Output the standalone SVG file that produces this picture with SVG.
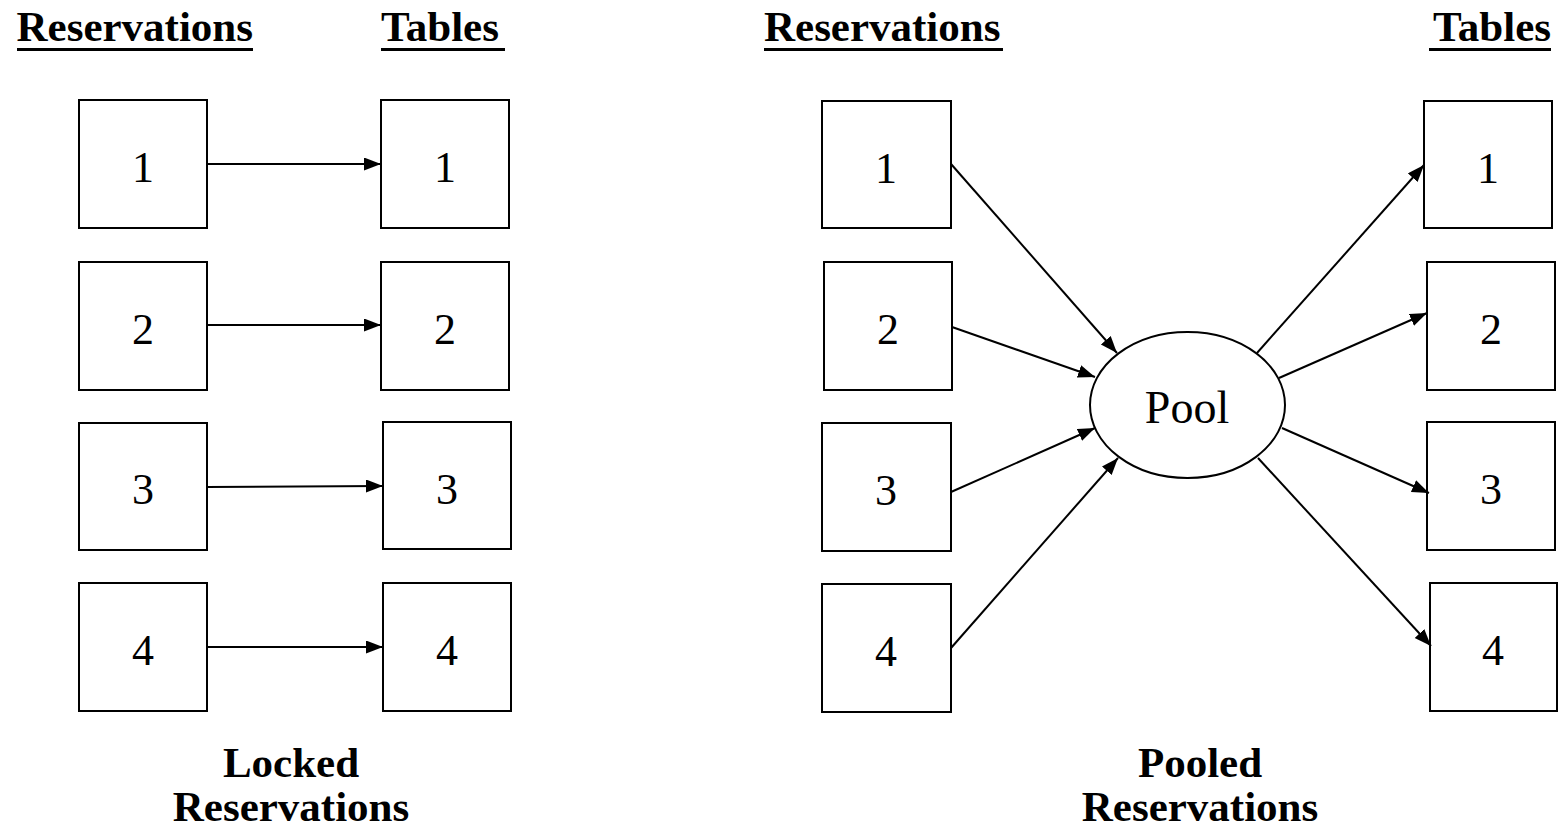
<svg xmlns="http://www.w3.org/2000/svg" width="1558" height="835" viewBox="0 0 1558 835">
  <style>
    .box { fill: #fff; stroke: #000; stroke-width: 2; }
    .pool { fill: #fff; stroke: #000; stroke-width: 2; }
    .num { font-family: "Liberation Serif", "Times New Roman", serif; font-size: 44px; text-anchor: middle; fill: #000; }
    .pooltext { font-family: "Liberation Serif", "Times New Roman", serif; font-size: 46px; text-anchor: middle; fill: #000; }
    .head { font-family: "Liberation Serif", "Times New Roman", serif; font-size: 43px; font-weight: bold; fill: #000; }
    .cap { font-family: "Liberation Serif", "Times New Roman", serif; font-size: 43px; font-weight: bold; text-anchor: middle; fill: #000; }
    .uline { stroke: #000; stroke-width: 3; }
    .conn line { stroke: #000; stroke-width: 2; marker-end: url(#arrow); }
  </style>
  <defs>
    <marker id="arrow" markerUnits="userSpaceOnUse" markerWidth="18" markerHeight="14" refX="17" refY="6.5" orient="auto">
      <path d="M0,0 L17,6.5 L0,13 z" fill="#000"/>
    </marker>
  </defs>
  <rect width="1558" height="835" fill="#fff"/>

  <!-- column headings -->
  <g id="headings">
    <text class="head" x="253" y="41" text-anchor="end">Reservations</text>
    <line class="uline" x1="17" y1="49.5" x2="253" y2="49.5"/>
    <text class="head" x="381" y="41">Tables</text>
    <line class="uline" x1="381" y1="49.5" x2="505" y2="49.5"/>
    <text class="head" x="764" y="41">Reservations</text>
    <line class="uline" x1="764" y1="49.5" x2="1003" y2="49.5"/>
    <text class="head" x="1551" y="41" text-anchor="end">Tables</text>
    <line class="uline" x1="1429" y1="49.5" x2="1551" y2="49.5"/>
  </g>

  <!-- locked: reservations -->
  <g id="lr1"><rect class="box" x="79" y="100" width="128" height="128"/><text class="num" x="143" y="182">1</text></g>
  <g id="lr2"><rect class="box" x="79" y="262" width="128" height="128"/><text class="num" x="143" y="344">2</text></g>
  <g id="lr3"><rect class="box" x="79" y="423" width="128" height="127"/><text class="num" x="143" y="504">3</text></g>
  <g id="lr4"><rect class="box" x="79" y="583" width="128" height="128"/><text class="num" x="143" y="665">4</text></g>

  <!-- locked: tables -->
  <g id="lt1"><rect class="box" x="381" y="100" width="128" height="128"/><text class="num" x="445" y="182">1</text></g>
  <g id="lt2"><rect class="box" x="381" y="262" width="128" height="128"/><text class="num" x="445" y="344">2</text></g>
  <g id="lt3"><rect class="box" x="383" y="422" width="128" height="127"/><text class="num" x="447" y="504">3</text></g>
  <g id="lt4"><rect class="box" x="383" y="583" width="128" height="128"/><text class="num" x="447" y="665">4</text></g>

  <!-- pooled: reservations -->
  <g id="pr1"><rect class="box" x="822" y="101" width="129" height="127"/><text class="num" x="886" y="183">1</text></g>
  <g id="pr2"><rect class="box" x="824" y="262" width="128" height="128"/><text class="num" x="888" y="344">2</text></g>
  <g id="pr3"><rect class="box" x="822" y="423" width="129" height="128"/><text class="num" x="886" y="505">3</text></g>
  <g id="pr4"><rect class="box" x="822" y="584" width="129" height="128"/><text class="num" x="886" y="666">4</text></g>

  <!-- pool -->
  <g id="pool"><ellipse class="pool" cx="1187.5" cy="405" rx="97.5" ry="73"/><text class="pooltext" x="1187" y="423">Pool</text></g>

  <!-- pooled: tables -->
  <g id="pt1"><rect class="box" x="1424" y="101" width="128" height="127"/><text class="num" x="1488" y="183">1</text></g>
  <g id="pt2"><rect class="box" x="1427" y="262" width="128" height="128"/><text class="num" x="1491" y="344">2</text></g>
  <g id="pt3"><rect class="box" x="1427" y="422" width="128" height="128"/><text class="num" x="1491" y="504">3</text></g>
  <g id="pt4"><rect class="box" x="1430" y="583" width="127" height="128"/><text class="num" x="1493" y="665">4</text></g>

  <!-- connectors -->
  <g id="connectors" class="conn">
    <line x1="207" y1="164" x2="381" y2="164"/>
    <line x1="207" y1="325" x2="381" y2="325"/>
    <line x1="207" y1="487" x2="383" y2="486"/>
    <line x1="207" y1="647" x2="383" y2="647"/>

    <line x1="951" y1="164" x2="1117" y2="353"/>
    <line x1="952" y1="327" x2="1095" y2="377"/>
    <line x1="951" y1="492" x2="1095" y2="428"/>
    <line x1="951" y1="648" x2="1118" y2="458"/>

    <line x1="1257" y1="353" x2="1424" y2="165"/>
    <line x1="1279" y1="378" x2="1427" y2="313"/>
    <line x1="1282" y1="428" x2="1429" y2="493"/>
    <line x1="1258" y1="458" x2="1431" y2="646"/>
  </g>

  <!-- captions -->
  <g id="captions">
    <text class="cap" x="291" y="777">Locked</text>
    <text class="cap" x="291" y="821">Reservations</text>
    <text class="cap" x="1200" y="777">Pooled</text>
    <text class="cap" x="1200" y="821">Reservations</text>
  </g>
</svg>
